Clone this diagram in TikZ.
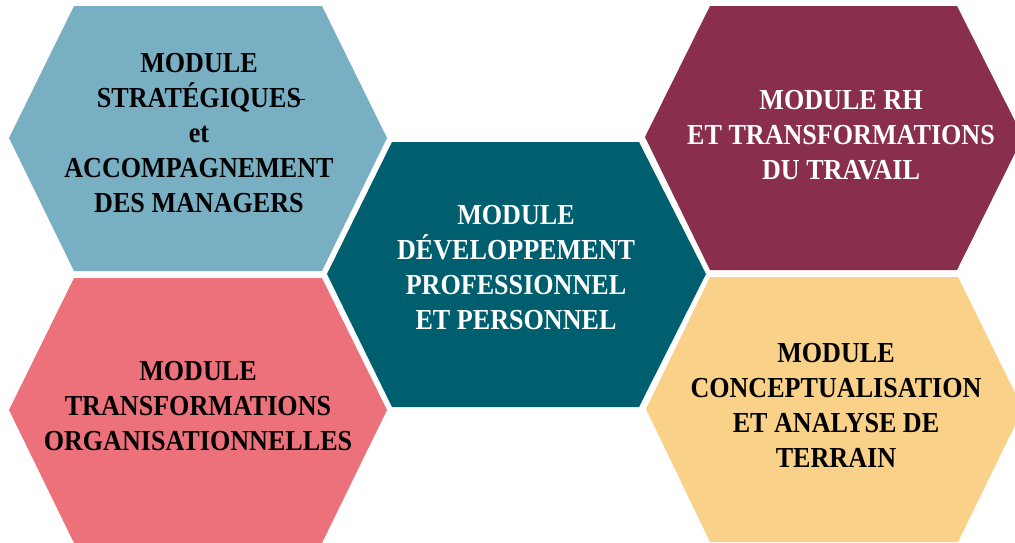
\documentclass[tikz,border=0pt]{standalone}
\usepackage{fontspec}
\setmainfont[FakeStretch=0.9]{Liberation Serif}
\definecolor{blueM}{RGB}{120,175,195}
\definecolor{pinkM}{RGB}{236,113,123}
\definecolor{tealM}{RGB}{0,95,110}
\definecolor{maroonM}{RGB}{137,46,76}
\definecolor{yellowM}{RGB}{249,209,136}
\newcommand\strikeS{\makebox[0pt][l]{\hspace{4pt}\rule[7.5pt]{14pt}{1.2pt}}S}
\tikzset{
  hexa/.style={draw=none},
  lbl/.style={align=center,inner sep=0pt,font=\fontsize{29}{35}\selectfont\bfseries},
}
\begin{document}
\begin{tikzpicture}[x=1pt,y=-1pt]
\useasboundingbox (0,0) rectangle (1015,542);
\clip (0,0) rectangle (1015,542);
\fill[white] (0,0) rectangle (1015,542);
% blue top-left
\fill[blueM,hexa] (74,6) -- (322,6) -- (387,138) -- (322,271) -- (74,271) -- (9,138) -- cycle;
% pink bottom-left
\fill[pinkM,hexa] (74,278) -- (322,278) -- (387,410) -- (322,543) -- (74,543) -- (9,410) -- cycle;
% teal center
\fill[tealM,hexa] (392,142) -- (639,142) -- (706,274) -- (639,407) -- (392,407) -- (327,274) -- cycle;
% maroon top-right
\fill[maroonM,hexa] (710,6) -- (957,6) -- (1023,137) -- (957,270) -- (710,270) -- (645,137) -- cycle;
% yellow bottom-right
\fill[yellowM,hexa] (710,277) -- (958,277) -- (1023,409) -- (958,542) -- (710,542) -- (646,409) -- cycle;

\node[lbl,text=black] (strat) at (199,133) {MODULE\\STRATÉGIQUE\strikeS\\et\\ACCOMPAGNEMENT\\DES MANAGERS};
\node[lbl,text=black] (orga) at (198,406) {MODULE\\TRANSFORMATIONS\\ORGANISATIONNELLES};
\node[lbl,text=white] (dev) at (516,267.5) {MODULE\\DÉVELOPPEMENT\\PROFESSIONNEL\\ET PERSONNEL};
\node[lbl,text=white] (rh) at (841,135.5) {MODULE RH\\ET TRANSFORMATIONS\\DU TRAVAIL};
\node[lbl,text=black] (concept) at (836,405) {MODULE\\CONCEPTUALISATION\\ET ANALYSE DE\\TERRAIN};
\end{tikzpicture}
\end{document}
